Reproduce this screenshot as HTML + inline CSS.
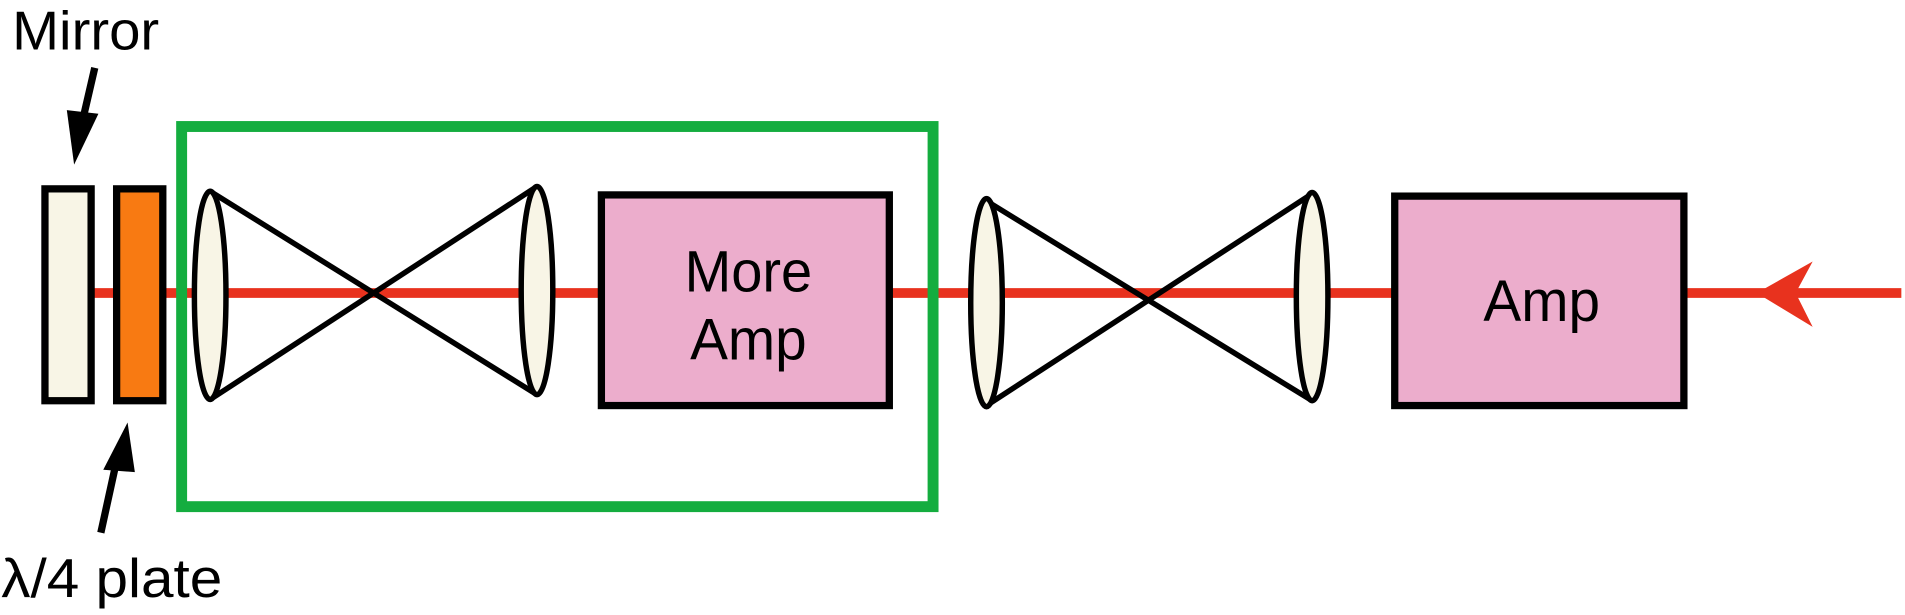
<!DOCTYPE html>
<html><head><style>html,body{margin:0;padding:0;background:#fff;}svg{display:block}</style></head>
<body>
<svg width="1905" height="615" viewBox="0 0 1568 508" preserveAspectRatio="none" xmlns="http://www.w3.org/2000/svg">
<rect width="1568" height="508" fill="#fff"/>
<text x="10" y="41" font-family="Liberation Sans, sans-serif" font-size="45" textLength="121" lengthAdjust="spacingAndGlyphs" fill="#000">Mirror</text>
<text x="1" y="493" font-family="Liberation Sans, sans-serif" font-size="45" textLength="182" lengthAdjust="spacingAndGlyphs" fill="#000">λ/4 plate</text>
<line x1="78" y1="56" x2="69" y2="95" stroke="#000" stroke-width="6"/>
<polygon points="55,91 81,94 61,136" fill="#000"/>
<line x1="83" y1="440" x2="95" y2="385" stroke="#000" stroke-width="6"/>
<polygon points="85,388 111,390 105,349" fill="#000"/>
<line x1="75" y1="242" x2="1565" y2="242" stroke="#e8321e" stroke-width="8"/>
<path d="M1492,216 L1446,242 L1492,270 L1478,242 Z" fill="#e8321e"/>
<rect x="37" y="156" width="38" height="175" fill="#f8f5e6" stroke="#000" stroke-width="6"/>
<rect x="96" y="156" width="38" height="175" fill="#f87a12" stroke="#000" stroke-width="6"/>
<rect x="149.5" y="104.5" width="618.5" height="314" fill="none" stroke="#14ad3f" stroke-width="9"/>
<g stroke="#000" stroke-width="4.5" fill="#f8f5e6">
<line x1="173" y1="158" x2="442" y2="326"/>
<line x1="173" y1="330" x2="442" y2="154"/>
<ellipse cx="173" cy="244" rx="13" ry="86"/>
<ellipse cx="442" cy="240" rx="13" ry="86"/>
<line x1="812" y1="166" x2="1080" y2="331"/>
<line x1="812" y1="335" x2="1080" y2="160"/>
<ellipse cx="812" cy="250" rx="13" ry="86"/>
<ellipse cx="1080" cy="245" rx="13" ry="86"/>
</g>
<g stroke="#000" stroke-width="6" fill="#ecadcc">
<rect x="495" y="161" width="237" height="174"/>
<rect x="1148" y="162" width="238" height="173"/>
</g>
<text x="616" y="241" text-anchor="middle" font-family="Liberation Sans, sans-serif" font-size="48" textLength="105" lengthAdjust="spacingAndGlyphs" fill="#000">More</text>
<text x="616" y="297" text-anchor="middle" font-family="Liberation Sans, sans-serif" font-size="48" textLength="96" lengthAdjust="spacingAndGlyphs" fill="#000">Amp</text>
<text x="1269" y="265" text-anchor="middle" font-family="Liberation Sans, sans-serif" font-size="48" textLength="96" lengthAdjust="spacingAndGlyphs" fill="#000">Amp</text>
</svg>
</body></html>
